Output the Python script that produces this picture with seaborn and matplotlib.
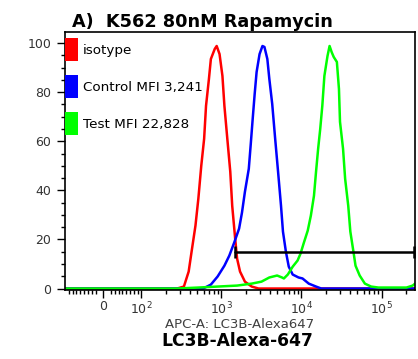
# K562 80nM Rapamycin - LC3B-Alexa647 histogram overlay
import numpy as np
import pandas as pd
import matplotlib
matplotlib.use("Agg")
import matplotlib.pyplot as plt
import seaborn as sns
from matplotlib.patches import Patch

# ------------------------------------------
# data
# ------------------------------------------
x_min, x_max = -100, 262143

iso_x = [x_min, 279, 339, 389, 423, 473, 514, 559, 607, 641, 697, 737, 824, 871,
         946, 1028, 1088, 1183, 1288, 1362, 1483, 1567, 1706, 1963, 2388, 2905, x_max]
iso_y = [0, 0, 0.8, 6.9, 15.0, 25.6, 36.6, 50.0, 61.0, 74.4, 85.4, 93.5, 97.6, 98.8,
         95.5, 86.6, 74.4, 61.0, 47.6, 33.7, 20.3, 12.2, 6.9, 2.8, 0.8, 0, 0]

ctrl_x = [x_min, 590, 737, 895, 1088, 1253, 1442, 1660, 1803, 1963, 2195, 2323, 2455,
          2600, 2748, 2992, 3252, 3443, 3743, 3963, 4306, 4688, 5096, 5546, 5866,
          6383, 6936, 7762, 9187, 10300, 12330, 15200, 17660, x_max]
ctrl_y = [0, 0, 1.6, 4.9, 9.3, 13.4, 18.7, 24.4, 30.9, 39.4, 48.8, 58.9, 69.1,
          79.3, 88.2, 95.5, 98.8, 98.4, 93.5, 85.4, 75.2, 61.0, 47.6, 33.7, 23.2,
          15.0, 8.9, 5.7, 4.5, 4.1, 2.0, 0.8, 0, 0]

test_x = [x_min, 279, 514, 895, 1567, 2388, 3162, 3963, 4955, 5702, 6026, 6745, 7762,
          8933, 9724, 10620, 11970, 13090, 14320, 15200, 16140, 17140, 18200, 19320,
          21130, 22440, 23830, 25300, 27680, 29390, 30290, 33070, 35110, 38400,
          40770, 44590, 47350, 53350, 61970, 74140, 91410, 204900, 245400, x_max]
test_y = [0, 0, 0.4, 0.8, 1.2, 2.0, 2.8, 4.5, 5.3, 4.5, 4.1, 5.7, 8.9,
          11.4, 14.2, 18.3, 23.6, 29.7, 37.8, 47.6, 56.9, 65.0, 74.4, 86.6,
          94.7, 98.8, 96.3, 94.3, 92.3, 81.3, 67.9, 56.9, 44.7, 33.7,
          23.2, 15.0, 9.3, 5.3, 2.0, 0.8, 0.4, 0.4, 1.2, 2.0]

labels = ["isotype", "Control MFI 3,241", "Test MFI 22,828"]
colors = ["#ff0000", "#0000ff", "#00ff00"]

gate_x = [1480, 255000]
gate_y = [14.8, 14.8]

df = pd.concat([
    pd.DataFrame({"value": iso_x, "count": iso_y, "sample": labels[0]}),
    pd.DataFrame({"value": ctrl_x, "count": ctrl_y, "sample": labels[1]}),
    pd.DataFrame({"value": test_x, "count": test_y, "sample": labels[2]}),
])

# ------------------------------------------
# plot
# ------------------------------------------
sns.set_style("ticks")
plt.rcParams["font.family"] = ["DejaVu Sans"]
plt.rcParams["mathtext.fontset"] = "dejavusans"
plt.rcParams["text.color"] = "black"

fig = plt.figure(figsize=(4.18, 3.59), dpi=100)
ax = fig.add_axes([65/418, 1 - 290/359, 350/418, 258/359])

ax.set_xscale("symlog", linthresh=100, linscale=0.43)

sns.lineplot(data=df, x="value", y="count", hue="sample",
             palette=dict(zip(labels, colors)), hue_order=labels,
             sort=False, estimator=None, lw=1.8, legend=False, ax=ax)

ax.plot(gate_x, gate_y, color="black", lw=1.8, marker="|", ms=9, mew=1.8)

ax.set_xlim(x_min, x_max)
ax.set_ylim(-0.6, 104.5)

# ticks
ax.set_yticks([0, 20, 40, 60, 80, 100])
ax.set_yticks(np.arange(0, 105, 5), minor=True)
ax.set_xticks([0, 1e2, 1e3, 1e4, 1e5])
ax.set_xticklabels(["0", "$10^2$", "$10^3$", "$10^4$", "$10^5$"])
minor = [-v for v in range(20, 100, 10)] + list(range(20, 100, 10))
for d in [1e2, 1e3, 1e4, 1e5]:
    minor += [m * d for m in range(2, 10) if m * d < x_max]
ax.set_xticks(minor, minor=True)

ax.tick_params(which="major", length=6, width=1, color="black",
               labelsize=9, labelcolor="#333333")
ax.tick_params(axis="x", which="major", pad=1.5)
ax.tick_params(axis="y", which="major", pad=4)
ax.tick_params(which="minor", length=3, width=1, color="black")
ax.set_xlabel("")
ax.set_ylabel("")
for s in ax.spines.values():
    s.set_visible(True)
    s.set_color("black")
    s.set_linewidth(1.2)

# legend as coloured blocks
handles = [Patch(facecolor=c, edgecolor="none") for c in colors]
ax.legend(handles, labels, loc="upper left", bbox_to_anchor=(0, 1 - 6/258),
          frameon=False, borderpad=0, borderaxespad=0, fontsize=9.7,
          handlelength=1.0, handleheight=2.3, handletextpad=0.3,
          labelspacing=1.0)

# titles
fig.text(72/418, 1 - 27/359, "A)  K562 80nM Rapamycin", fontsize=12.7,
         fontweight="bold", ha="left", va="baseline")
fig.text(240/418, 1 - 328/359, "APC-A: LC3B-Alexa647", fontsize=9.5,
         color="#404040", ha="center", va="baseline")
fig.text(237/418, 1 - 346/359, "LC3B-Alexa-647", fontsize=12.3,
         fontweight="bold", ha="center", va="baseline")

fig.savefig("out.png", dpi=100)
